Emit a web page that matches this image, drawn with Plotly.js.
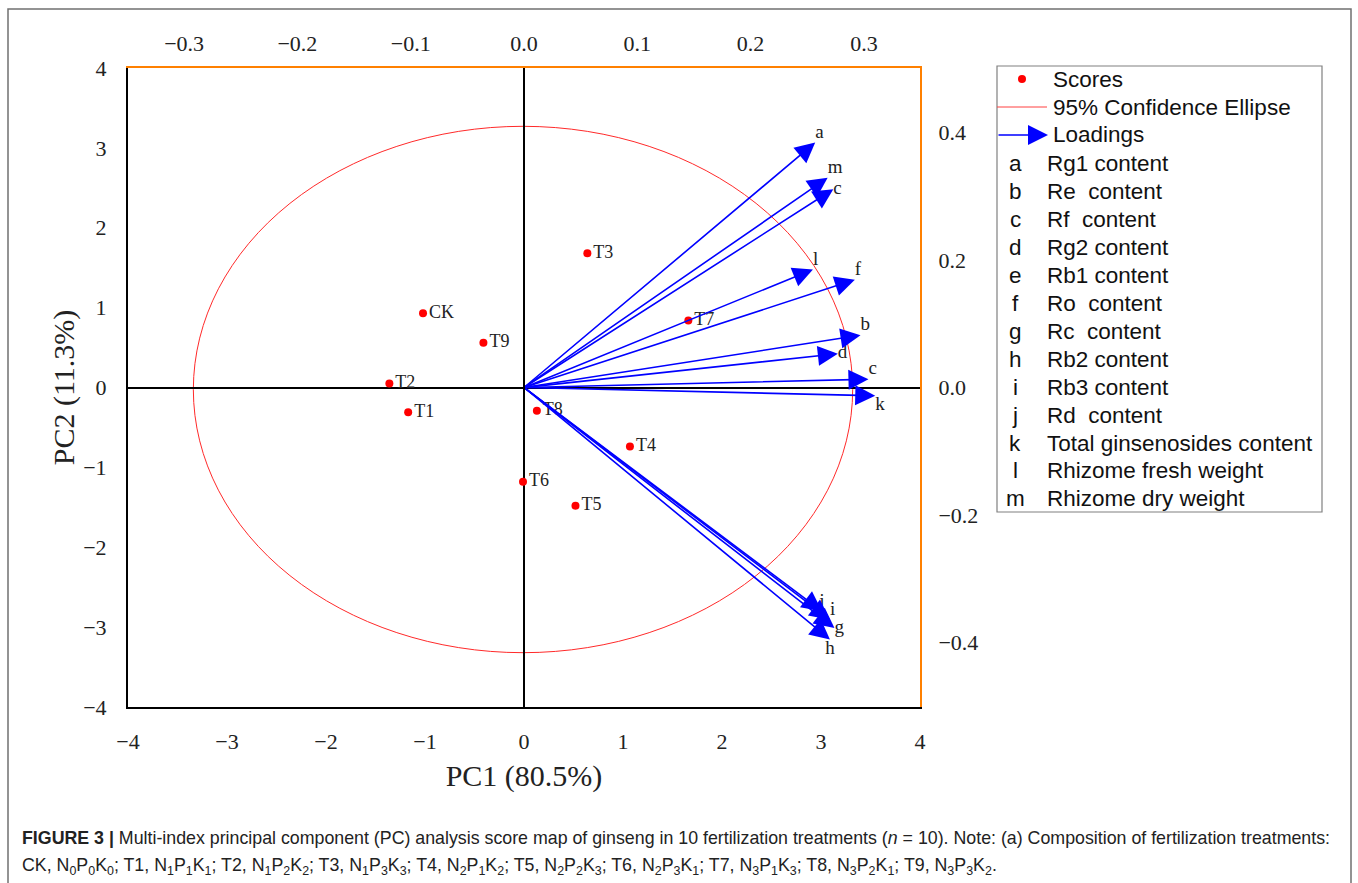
<!DOCTYPE html>
<html><head><meta charset="utf-8">
<script src="https://cdn.plot.ly/plotly-3.0.1.min.js"></script>
<style>html,body{margin:0;padding:0;background:#fff;}#chart{width:1358px;height:883px;}</style>
</head><body><div id="chart"></div>
<script>
// ---------- DATA ----------
// Scores of the 10 fertilization treatments
const scoreNames = ['CK','T1','T2','T3','T4','T5','T6','T7','T8','T9'];
const scorePC1 = [-1.02, -1.17, -1.36, 0.64, 1.07, 0.52, -0.01, 1.66, 0.13, -0.41];
const scorePC2 = [0.93, -0.31, 0.05, 1.68, -0.74, -1.48, -1.18, 0.84, -0.29, 0.56];

// Loadings (arrow tips, read on the top / right axes)
const loadingLabels = ['a','m','c','l','f','b','d','c','k','j','i','g','h'];
const loadingPC1 = [0.257, 0.268, 0.273, 0.255, 0.292, 0.297, 0.277, 0.304, 0.310, 0.263, 0.270, 0.274, 0.270];
const loadingPC2 = [0.384, 0.329, 0.311, 0.185, 0.169, 0.082, 0.053, 0.013, -0.013, -0.351, -0.364, -0.377, -0.395];

// 95% confidence ellipse extent on PC1 / PC2
const ellipsePC1 = [-3.34, 3.32];
const ellipsePC2 = [-3.32, 3.27];

// Legend key
const legendKeys = ['a','b','c','d','e','f','g','h','i','j','k','l','m'];
const legendNames = ['Rg1 content','Re\u00a0 content','Rf\u00a0 content','Rg2 content','Rb1 content','Ro\u00a0 content',
  'Rc\u00a0 content','Rb2 content','Rb3 content','Rd\u00a0 content','Total ginsenosides content',
  'Rhizome fresh weight','Rhizome dry weight'];

// Axis ticks
const pc1Ticks = [-4,-3,-2,-1,0,1,2,3,4];
const pc2Ticks = [-4,-3,-2,-1,0,1,2,3,4];
const loadXTicks = [-0.3,-0.2,-0.1,0,0.1,0.2,0.3];
const loadYTicks = [-0.4,-0.2,0,0.2,0.4];

// Caption: treatment composition levels
const treatN = [0,1,1,1,2,2,2,3,3,3];
const treatP = [0,1,2,3,1,2,3,1,2,3];
const treatK = [0,1,2,3,2,3,1,3,1,2];

// ---------- STYLE / GEOMETRY ----------
const L = 128, R = 920, T = 68, B = 707;
const px = v => (v - L) / (R - L);
const py = v => (B - v) / (B - T);
const serif = 'Liberation Serif';
const sans = 'Liberation Sans';
const labelPos = ['top right','top right','middle right','top right','top right','top right','middle right',
  'top right','bottom right','top center','top right','middle right','bottom center'];

const traces = [
  {
    type: 'scatter', mode: 'markers+text', x: scorePC1, y: scorePC2, text: scoreNames,
    textposition: 'middle right', xaxis: 'x', yaxis: 'y',
    marker: {color: '#FF0000', size: 8},
    textfont: {family: serif, size: 18, color: '#222'},
    cliponaxis: false, hoverinfo: 'skip'
  },
  {
    type: 'scatter', mode: 'text', x: loadingPC1, y: loadingPC2, text: loadingLabels,
    textposition: labelPos, xaxis: 'x2', yaxis: 'y2',
    textfont: {family: serif, size: 19, color: '#222'},
    cliponaxis: false, hoverinfo: 'skip'
  }
];

const annotations = [];
loadingPC1.forEach((v, i) => {
  annotations.push({
    xref: 'x2', yref: 'y2', axref: 'x2', ayref: 'y2',
    x: v, y: loadingPC2[i], ax: 0, ay: 0, text: '', showarrow: true,
    arrowhead: 2, arrowsize: 2.5, arrowwidth: 1.6, arrowcolor: '#0000FF', standoff: 0
  });
});

// Legend (drawn by hand)
const shapes = [
  {type: 'circle', xref: 'x', yref: 'y', x0: ellipsePC1[0], x1: ellipsePC1[1], y0: ellipsePC2[0], y1: ellipsePC2[1],
   line: {color: '#FF2A2A', width: 1}, layer: 'below'},
  {type: 'rect', xref: 'paper', yref: 'paper', x0: px(997), x1: px(1322), y0: py(66), y1: py(512),
   line: {color: '#808080', width: 1.2}},
  {type: 'circle', xref: 'paper', yref: 'paper', x0: px(1018), x1: px(1026), y0: py(75), y1: py(83),
   fillcolor: '#FF0000', line: {width: 0}},
  {type: 'line', xref: 'paper', yref: 'paper', x0: px(997), x1: px(1047), y0: py(107), y1: py(107),
   line: {color: '#FF4040', width: 1}},
  {type: 'rect', xref: 'paper', yref: 'paper', x0: px(8), x1: px(1351), y0: py(9), y1: py(900),
   line: {color: '#707070', width: 1.5}}
];
annotations.push({xref: 'paper', yref: 'paper', x: px(1048), y: py(135), axref: 'pixel', ayref: 'pixel',
  ax: -51, ay: 0, text: '', showarrow: true, arrowhead: 2, arrowsize: 2.5, arrowwidth: 1.6, arrowcolor: '#0000FF', standoff: 0});
const legFont = {family: sans, size: 22.5, color: '#111'};
[['Scores', 79], ['95% Confidence Ellipse', 107], ['Loadings', 135]].forEach(([t, y]) => {
  annotations.push({xref: 'paper', yref: 'paper', x: px(1051), y: py(y), xanchor: 'left', yanchor: 'middle',
    text: t, showarrow: false, font: legFont});
});
legendKeys.forEach((k, i) => {
  const y = 164 + i * 27.9;
  annotations.push({xref: 'paper', yref: 'paper', x: px(1015), y: py(y), xanchor: 'center', yanchor: 'middle',
    text: k, showarrow: false, font: legFont});
  annotations.push({xref: 'paper', yref: 'paper', x: px(1045), y: py(y), xanchor: 'left', yanchor: 'middle',
    text: legendNames[i], showarrow: false, font: legFont});
});

// Caption
const comp = scoreNames.map((n, i) =>
  n + ', N<sub>' + treatN[i] + '</sub>P<sub>' + treatP[i] + '</sub>K<sub>' + treatK[i] + '</sub>').join('; ') + '.';
const capFont = {family: sans, size: 17.8, color: '#222'};
annotations.push({xref: 'paper', yref: 'paper', x: px(20), y: py(838), xanchor: 'left', yanchor: 'middle', showarrow: false,
  font: capFont,
  text: '<b>FIGURE 3 |</b> Multi-index principal component (PC) analysis score map of ginseng in 10 fertilization treatments (<i>n</i> = 10). Note: (a) Composition of fertilization treatments:'});
annotations.push({xref: 'paper', yref: 'paper', x: px(20), y: py(866), xanchor: 'left', yanchor: 'middle', showarrow: false,
  font: capFont, text: comp});

const tickFont = {family: serif, size: 22, color: '#222'};
const layout = {
  width: 1358, height: 883,
  margin: {l: L, r: 1358 - R, t: T, b: 883 - B, pad: 0},
  paper_bgcolor: '#fff', plot_bgcolor: '#fff',
  showlegend: false,
  font: {family: serif, color: '#222'},
  xaxis: {
    range: [-4, 4], tickvals: pc1Ticks, showgrid: false, zeroline: true, zerolinecolor: '#000', zerolinewidth: 2,
    showline: true, linecolor: '#000', linewidth: 2, ticks: 'outside', ticklen: 14, tickcolor: 'rgba(0,0,0,0)',
    tickfont: tickFont, automargin: false, fixedrange: true,
    title: {text: 'PC1 (80.5%)', font: {family: serif, size: 30, color: '#222'}, standoff: 12}
  },
  yaxis: {
    range: [-4, 4], tickvals: pc2Ticks, showgrid: false, zeroline: true, zerolinecolor: '#000', zerolinewidth: 2,
    showline: true, linecolor: '#000', linewidth: 2, ticks: 'outside', ticklen: 15, tickcolor: 'rgba(0,0,0,0)',
    tickfont: tickFont, automargin: false, fixedrange: true,
    title: {text: 'PC2 (11.3%)', font: {family: serif, size: 30, color: '#222'}, standoff: 0}
  },
  xaxis2: {
    overlaying: 'x', side: 'top', anchor: 'y', range: [-0.3495, 0.3495], tickvals: loadXTicks, tickformat: '.1f',
    showgrid: false, zeroline: false, showline: true, linecolor: '#FF8000', linewidth: 2,
    ticks: 'outside', ticklen: 6, tickcolor: 'rgba(0,0,0,0)', tickfont: tickFont, automargin: false, fixedrange: true
  },
  yaxis2: {
    overlaying: 'y', side: 'right', anchor: 'x', range: [-0.501, 0.501], tickvals: loadYTicks, tickformat: '.1f',
    showgrid: false, zeroline: false, showline: true, linecolor: '#FF8000', linewidth: 2,
    ticks: 'outside', ticklen: 12, tickcolor: 'rgba(0,0,0,0)', tickfont: tickFont, automargin: false, fixedrange: true
  },
  shapes: shapes,
  annotations: annotations
};

Plotly.newPlot('chart', traces, layout, {displayModeBar: false, staticPlot: true});
</script>
</body></html>
